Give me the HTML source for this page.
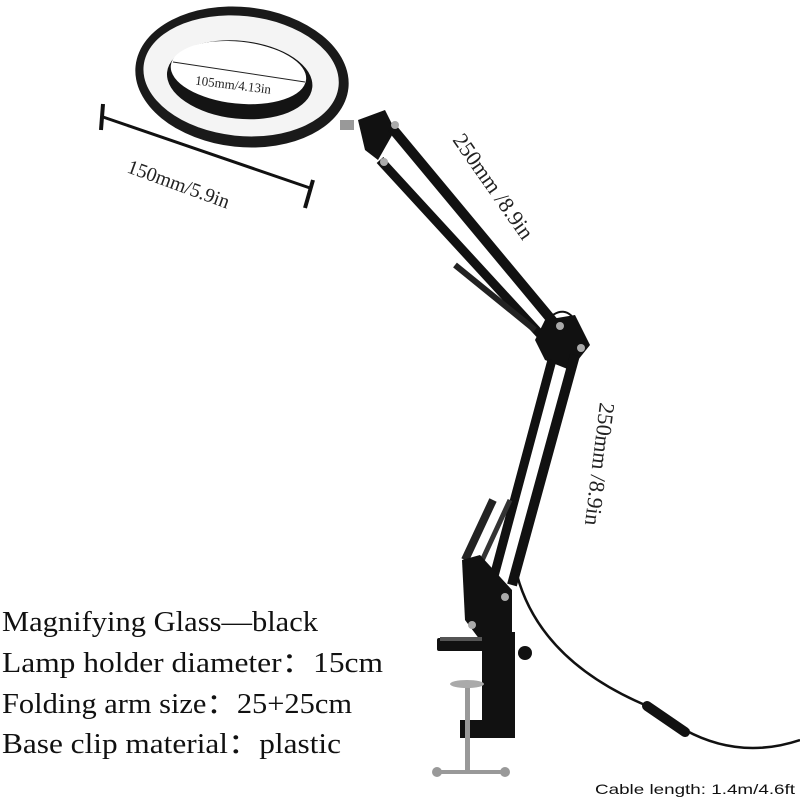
<!DOCTYPE html>
<html><head><style>
html,body{margin:0;padding:0;background:#fff;}
svg{display:block;}
</style></head><body>
<svg width="800" height="800" viewBox="0 0 800 800" xmlns="http://www.w3.org/2000/svg">
<rect width="800" height="800" fill="#fff"/>
<!-- ring -->
<g transform="rotate(6 242 77)">
<ellipse cx="242" cy="77" rx="107" ry="70" fill="#1a1a1a"/>
<ellipse cx="241" cy="76" rx="98" ry="60" fill="#f4f4f4"/>
<ellipse cx="240" cy="80" rx="73" ry="39" fill="#141414"/>
<ellipse cx="238" cy="73" rx="68" ry="31" fill="#fff"/>
</g>
<line x1="173" y1="62" x2="305" y2="82" stroke="#222" stroke-width="1"/>
<text x="195" y="90" font-family="Liberation Serif,serif" font-size="13" fill="#222" transform="rotate(7 240 86)">105mm/4.13in</text>
<!-- 150 dimension -->
<line x1="103" y1="117" x2="310" y2="188" stroke="#111" stroke-width="3"/>
<line x1="103" y1="104" x2="101" y2="130" stroke="#111" stroke-width="4"/>
<line x1="313" y1="180" x2="305" y2="208" stroke="#111" stroke-width="4"/>
<text x="126" y="172" font-family="Liberation Serif,serif" font-size="20" fill="#222" transform="rotate(20 126 172)">150mm/5.9in</text>
<!-- stub -->
<rect x="340" y="120" width="14" height="10" fill="#999"/>
<!-- upper arm -->
<polygon points="358,120 385,110 395,130 378,160 365,150" fill="#111"/>
<line x1="392" y1="128" x2="560" y2="330" stroke="#111" stroke-width="10"/>
<line x1="380" y1="160" x2="550" y2="345" stroke="#111" stroke-width="9"/>
<line x1="455" y1="265" x2="535" y2="330" stroke="#222" stroke-width="6"/>
<circle cx="395" cy="125" r="4" fill="#aaa"/><circle cx="384" cy="162" r="4" fill="#aaa"/>
<!-- elbow -->
<polygon points="545,320 575,315 590,345 570,370 545,360 535,340" fill="#111"/>
<path d="M545,322 Q565,300 578,325" stroke="#111" stroke-width="2" fill="none"/>
<circle cx="560" cy="326" r="4" fill="#aaa"/><circle cx="581" cy="348" r="4" fill="#aaa"/>
<!-- lower arm -->
<line x1="575" y1="355" x2="512" y2="585" stroke="#111" stroke-width="10"/>
<line x1="552" y1="360" x2="493" y2="580" stroke="#111" stroke-width="9"/>
<line x1="493" y1="500" x2="465" y2="560" stroke="#222" stroke-width="8"/>
<line x1="510" y1="500" x2="480" y2="565" stroke="#333" stroke-width="5"/>
<!-- base -->
<polygon points="462,560 480,555 512,590 512,635 480,640 465,620" fill="#111"/>
<circle cx="505" cy="597" r="4" fill="#aaa"/><circle cx="472" cy="625" r="4" fill="#aaa"/>
<rect x="437" y="638" width="60" height="13" rx="2" fill="#111"/>
<rect x="440" y="637" width="50" height="4" fill="#555"/>
<rect x="482" y="632" width="33" height="95" fill="#111"/>
<rect x="460" y="720" width="55" height="18" fill="#111"/>
<circle cx="525" cy="653" r="7" fill="#111"/>
<rect x="465" y="685" width="5" height="85" fill="#999"/>
<ellipse cx="467" cy="684" rx="17" ry="4" fill="#aaa"/>
<rect x="437" y="770" width="70" height="4" fill="#999"/>
<circle cx="437" cy="772" r="5" fill="#999"/><circle cx="505" cy="772" r="5" fill="#999"/>
<!-- cable -->
<path d="M517,575 Q540,660 645,705 L685,730 Q740,760 800,740" stroke="#111" stroke-width="2.5" fill="none"/>
<line x1="647" y1="706" x2="685" y2="732" stroke="#111" stroke-width="10" stroke-linecap="round"/>
<!-- arm labels -->
<text x="452" y="140" font-family="Liberation Serif,serif" font-size="22" fill="#222" transform="rotate(55 452 140)">250mm /8.9in</text>
<text x="600" y="402" font-family="Liberation Serif,serif" font-size="22" fill="#222" transform="rotate(97 600 402)">250mm /8.9in</text>
<!-- spec text -->
<g font-family="Liberation Serif,serif" font-size="28" fill="#111">
<text x="2" y="631" textLength="316" lengthAdjust="spacingAndGlyphs">Magnifying Glass—black</text>
<text x="2" y="672" textLength="381" lengthAdjust="spacingAndGlyphs">Lamp holder diameter：15cm</text>
<text x="2" y="713" textLength="350" lengthAdjust="spacingAndGlyphs">Folding arm size：25+25cm</text>
<text x="2" y="753" textLength="339" lengthAdjust="spacingAndGlyphs">Base clip material：plastic</text>
</g>
<text x="595" y="794" font-family="Liberation Sans,sans-serif" font-size="14" fill="#111" textLength="200" lengthAdjust="spacingAndGlyphs">Cable length: 1.4m/4.6ft</text>
</svg>
</body></html>
